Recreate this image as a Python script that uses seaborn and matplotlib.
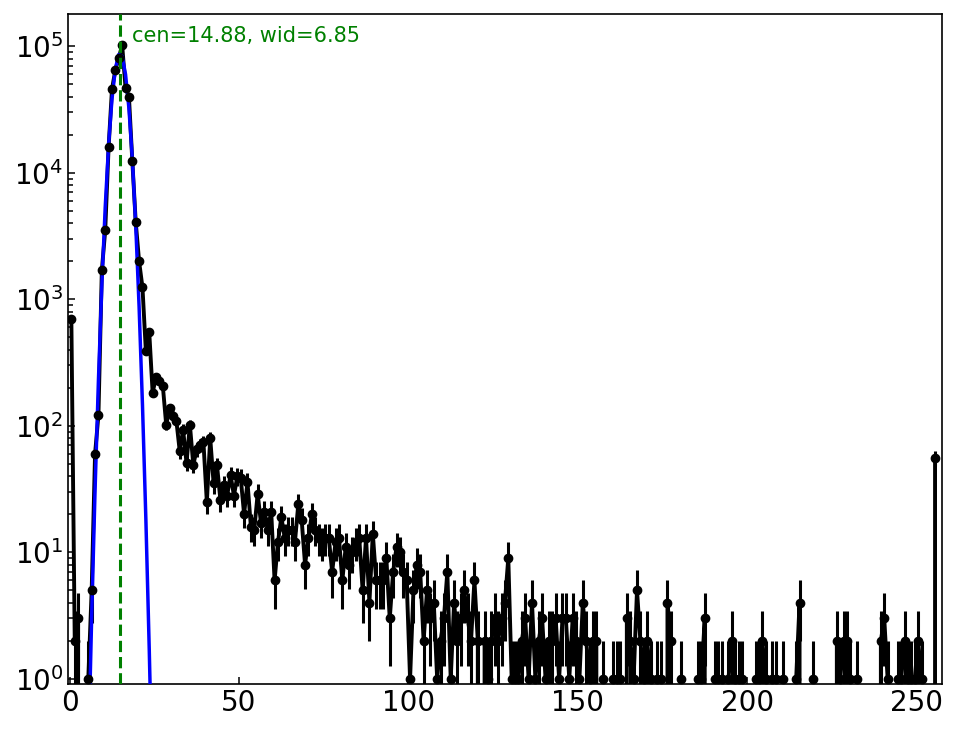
import numpy as np
import pandas as pd
import matplotlib
matplotlib.use('Agg')
import matplotlib.pyplot as plt
import seaborn as sns

# histogram counts per ADC channel 0..255
counts = [
    700, 2, 3, 0, 0, 1, 5, 60, 122, 1700,
    3500, 16000, 46000, 65000, 81000, 102000, 47000, 40000, 12400, 4100,
    2000, 1240, 390, 550, 182, 245, 225, 208, 102, 138,
    120, 110, 63, 93, 51, 102, 49, 65, 70, 74,
    25, 80, 35, 49, 26, 34, 28, 41, 28, 40,
    39, 20, 36, 16, 15, 29, 17, 21, 15, 21,
    6, 12, 19, 13, 15, 15, 12, 24, 18, 8,
    13, 20, 15, 13, 12, 13, 13, 7, 12, 13,
    6, 11, 8, 10, 12, 13, 5, 13, 4, 14,
    6, 6, 6, 9, 3, 7, 11, 10, 7, 6,
    1, 5, 8, 7, 2, 5, 3, 4, 1, 2,
    3, 7, 1, 4, 2, 3, 5, 3, 2, 6,
    2, 0, 2, 1, 2, 3, 2, 3, 4, 9,
    1, 1, 1, 2, 3, 1, 4, 1, 2, 3,
    1, 2, 2, 3, 1, 3, 3, 1, 3, 2,
    1, 4, 2, 1, 2, 2, 0, 1, 0, 0,
    1, 1, 1, 0, 3, 2, 1, 5, 2, 1,
    2, 1, 0, 1, 1, 0, 4, 2, 0, 0,
    1, 0, 0, 0, 0, 1, 1, 3, 0, 0,
    1, 1, 1, 0, 1, 2, 1, 1, 1, 0,
    0, 0, 1, 1, 2, 1, 0, 1, 1, 0,
    1, 0, 0, 0, 1, 4, 0, 0, 0, 1,
    0, 0, 0, 0, 0, 0, 2, 1, 2, 2,
    1, 0, 1, 0, 0, 0, 0, 0, 0, 2,
    3, 1, 0, 0, 1, 1, 2, 1, 1, 1,
    2, 1, 0, 0, 0, 56,
]
channel = np.arange(len(counts)) + 0.5

# gaussian fit curve near the peak
fit_x = [5.5, 6.5, 7.5, 8.5, 9.5, 10.5, 11.5, 12.5, 13.5, 14.5,
         15.5, 16.5, 17.5, 18.5, 19.5, 20.5, 21.5, 22.5, 23.5, 24.5]
fit_y = [0.23, 3.1, 31, 231, 1287, 5350, 16600, 38500, 66600, 86200,
         83200, 60000, 32300, 13000, 3900, 876, 146, 18.3, 1.7, 0.12]

cen = 14.88
wid = 6.85

df = pd.DataFrame({'channel': channel, 'counts': counts})
df['err'] = np.sqrt(df['counts'])
fit_df = pd.DataFrame({'x': fit_x, 'y': fit_y})

sns.set_style('white')
fig = plt.figure(figsize=(9.64, 7.29), dpi=100)
ax = fig.add_axes([0.0705, 0.0617, 0.9065, 0.9191])

# data line + error bars
ax.errorbar(df['channel'], df['counts'], yerr=df['err'], fmt='none',
            ecolor='black', elinewidth=2.2, zorder=2)
sns.lineplot(ax=ax, data=df, x='channel', y='counts', color='black',
             linewidth=2.8, estimator=None, sort=False, zorder=2)
sns.lineplot(ax=ax, data=fit_df, x='x', y='y', color='blue',
             linewidth=2.5, estimator=None, sort=False, zorder=3)
ax.plot(df['channel'], df['counts'], 'o', color='black', markersize=6, zorder=4)

ax.axvline(cen, color='green', linestyle='--', linewidth=2.2, zorder=5)
ax.text(cen + 3.4, 1.2e5, f'cen={cen:.2f}, wid={wid:.2f}', color='green',
        fontsize=15, va='center', ha='left')

ax.set_yscale('log')
ax.set_xlim(-0.5, 257.5)
ax.set_ylim(0.91, 1.8e5)
ax.set_xlabel('')
ax.set_ylabel('')
ax.tick_params(which='both', direction='in', labelsize=20, colors='black',
               left=True, bottom=True, width=1.1)
ax.tick_params(which='major', length=5)
ax.tick_params(which='minor', length=3.5)
for s in ax.spines.values():
    s.set_color('black')
    s.set_linewidth(1.2)

fig.savefig('out.png', dpi=100)
